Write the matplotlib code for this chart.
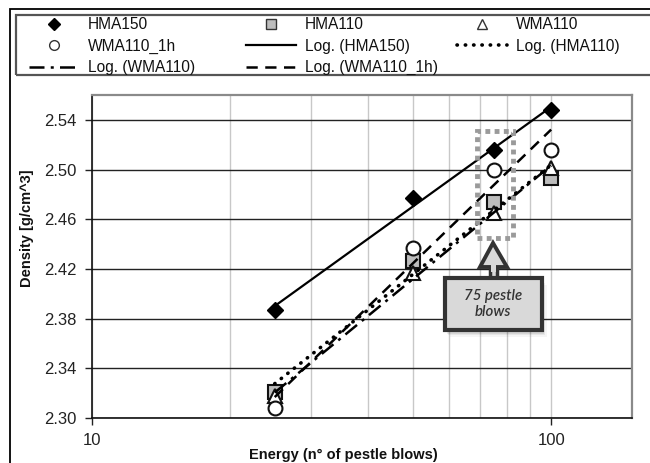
import numpy as np
import matplotlib
matplotlib.use("Agg")
import matplotlib.pyplot as plt
from matplotlib.lines import Line2D
from matplotlib.patches import Rectangle, Polygon

plt.rcParams['font.family'] = ['Liberation Sans', 'DejaVu Sans']

# ---- data ----
energy = [25, 50, 75, 100]
hma150 = [2.387, 2.477, 2.516, 2.548]
hma110 = [2.321, 2.426, 2.474, 2.493]
wma110 = [2.318, 2.417, 2.465, 2.501]
wma110_1h = [2.308, 2.437, 2.500, 2.516]
yticks = [2.30, 2.34, 2.38, 2.42, 2.46, 2.50, 2.54]
xticks = [10, 100]
callout_text = "75 pestle\nblows"

W, H = 650, 463
fig = plt.figure(figsize=(W / 100, H / 100), dpi=100)
fig.patch.set_facecolor('white')

def fx(x):
    return x / W

def fy(y):
    return 1 - y / H

L, R, T, B = 92, 632, 95, 418
ax = fig.add_axes([fx(L), fy(B), (R - L) / W, (B - T) / H])
ax.set_xscale('log')
ax.set_xlim(10, 150)
ax.set_ylim(2.30, 2.56)

# grid
ax.set_yticks(yticks)
ax.set_yticklabels([f"{v:.2f}" for v in yticks])
ax.set_xticks(xticks)
ax.set_xticklabels([str(v) for v in xticks])
ax.xaxis.set_minor_locator(matplotlib.ticker.LogLocator(base=10, subs=np.arange(2, 10)))
ax.xaxis.set_minor_formatter(matplotlib.ticker.NullFormatter())
ax.grid(True, axis='y', which='major', color='#222222', lw=1.0, zorder=0)
ax.grid(True, axis='x', which='both', color='#c8c8c8', lw=1.0, zorder=0)
ax.set_axisbelow(True)
ax.tick_params(axis='both', which='major', labelsize=12, length=5, width=1, color='#222222', labelcolor='#222222')
ax.tick_params(axis='x', which='major', pad=6)
ax.tick_params(axis='y', which='major', pad=6)
ax.tick_params(axis='x', which='minor', length=0)
for s in ['left', 'bottom']:
    ax.spines[s].set_color('#111111')
    ax.spines[s].set_linewidth(1.2)
for s in ['top', 'right']:
    ax.spines[s].set_color('#8a8a8a')
    ax.spines[s].set_linewidth(1.6)

ax.set_xlabel("Energy (n° of pestle blows)", fontsize=10.5, fontweight='bold', color='#111111')
ax.xaxis.set_label_coords((343 - L) / (R - L), -(455 - B) / (B - T))
ax.xaxis.label.set_va('center')
ax.set_ylabel("Density [g/cm^3]", fontsize=10.5, fontweight='bold', color='#111111')
ax.yaxis.set_label_coords((27 - L) / (R - L), (B - 228) / (B - T))
ax.yaxis.label.set_va('center')

# markers
ax.plot(energy, hma150, ls='none', marker='D', ms=8.5, mfc='black', mec='black', zorder=3)
ax.plot(energy, hma110, ls='none', marker='s', ms=10, mfc='#bdbdbd', mec='#111111', mew=1.5, zorder=3)
ax.plot(energy, wma110, ls='none', marker='^', ms=10, mfc='white', mec='#111111', mew=1.5, zorder=3)
ax.plot(energy, wma110_1h, ls='none', marker='o', ms=10, mfc='white', mec='#111111', mew=1.5, zorder=3)

# logarithmic trend lines
xs = np.linspace(min(energy), max(energy), 200)
styles = {
    'hma150': dict(ls='-', lw=1.6),
    'hma110': dict(ls=(0, (0.1, 2.2)), lw=2.6, dash_capstyle='round'),
    'wma110': dict(ls=(0, (6, 2.5, 1.2, 2.5)), lw=1.8),
    'wma110_1h': dict(ls=(0, (4.5, 3)), lw=1.8),
}
for key, ys in [('hma150', hma150), ('hma110', hma110), ('wma110', wma110), ('wma110_1h', wma110_1h)]:
    a, b = np.polyfit(np.log(energy), ys, 1)
    ax.plot(xs, a * np.log(xs) + b, color='black', zorder=4, **styles[key])

# ---- callout (figure pixel coordinates) ----
ft = fig.transFigure
fig.add_artist(Rectangle((fx(477), fy(238)), fx(513) - fx(477), fy(131) - fy(238), transform=ft,
                         fill=False, ec='#9a9a9a', lw=3.5, ls=(0, (1, 0.9)), zorder=6))
for i, a in enumerate([0.10, 0.08, 0.06, 0.04]):
    off = 2 + i * 1.5
    fig.add_artist(Rectangle((fx(445 + off - 2), fy(330 + off)), fx(542) - fx(445), fy(278) - fy(330),
                             transform=ft, fc='black', ec='none', alpha=a, zorder=6))
fig.add_artist(Rectangle((fx(490), fy(280)), fx(497) - fx(490), fy(266) - fy(280), transform=ft,
                         fc='#d9d9d9', ec='#333333', lw=2.5, zorder=7))
fig.add_artist(Polygon([(fx(493), fy(243)), (fx(480), fy(267)), (fx(507), fy(267))], closed=True,
                       transform=ft, fc='#d9d9d9', ec='#333333', lw=2.8, joinstyle='miter', zorder=7))
fig.add_artist(Rectangle((fx(491), fy(272)), fx(496) - fx(491), fy(264) - fy(272), transform=ft,
                         fc='#d9d9d9', ec='none', zorder=8))
fig.add_artist(Rectangle((fx(445), fy(330)), fx(542) - fx(445), fy(278) - fy(330), transform=ft,
                         fc='#d9d9d9', ec='#333333', lw=3, zorder=8))
fig.text(fx(493), fy(304), callout_text, ha='center', va='center', fontsize=10.8, style='italic',
         fontweight='semibold', color='#333333', family=['Lato', 'DejaVu Sans'], linespacing=1.25, zorder=9)

# ---- frames ----
fig.add_artist(Rectangle((fx(10), fy(470)), fx(700) - fx(10), fy(9) - fy(470), transform=ft,
                         fill=False, ec='black', lw=1.3, zorder=1))
fig.add_artist(Rectangle((fx(16), fy(75)), fx(700) - fx(16), fy(15) - fy(75), transform=ft,
                         fill=False, ec='#555555', lw=1.6, zorder=1))

# ---- legend (three columns) ----
mk_kw = dict(color='black', ls='none')
h_hma150 = Line2D([], [], marker='D', ms=6, mfc='black', mec='black', **mk_kw)
h_hma110 = Line2D([], [], marker='s', ms=7, mfc='#bdbdbd', mec='#333333', mew=1.0, **mk_kw)
h_wma110 = Line2D([], [], marker='^', ms=7, mfc='white', mec='#333333', mew=1.0, **mk_kw)
h_wma1h = Line2D([], [], marker='o', ms=7, mfc='white', mec='#333333', mew=1.0, **mk_kw)
l_hma150 = Line2D([], [], color='black', **styles['hma150'])
l_hma110 = Line2D([], [], color='black', **styles['hma110'])
l_wma110 = Line2D([], [], color='black', **styles['wma110'])
l_wma1h = Line2D([], [], color='black', **styles['wma110_1h'])

cols = [
    (29, [h_hma150, h_wma1h, l_wma110], ["HMA150", "WMA110_1h", "Log. (WMA110)"]),
    (246, [h_hma110, l_hma150, l_wma1h], ["HMA110", "Log. (HMA150)", "Log. (WMA110_1h)"]),
    (457, [h_wma110, l_hma110], ["WMA110", "Log. (HMA110)"]),
]
for x0, hs, ls in cols:
    leg = fig.legend(hs, ls, loc='upper left', bbox_to_anchor=(fx(x0), fy(17)), frameon=False,
                     fontsize=11.2, handlelength=3.2, handletextpad=0.6, labelspacing=0.42,
                     borderpad=0, borderaxespad=0)
    for t in leg.get_texts():
        t.set_color('#111111')

fig.savefig('out.png', dpi=100)
